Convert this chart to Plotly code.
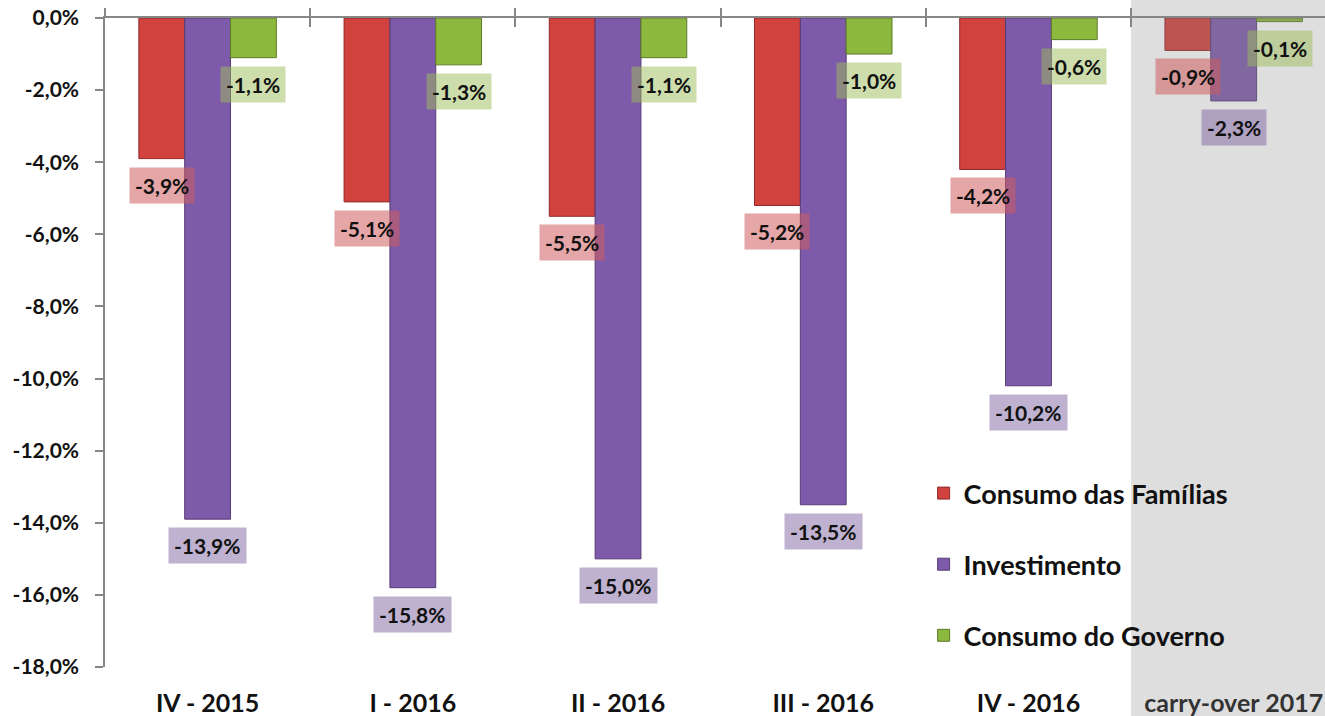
import plotly.graph_objects as go

categories = ["IV - 2015", "I - 2016", "II - 2016", "III - 2016", "IV - 2016", "carry-over 2017"]
consumo_familias = [-3.9, -5.1, -5.5, -5.2, -4.2, -0.9]
investimento = [-13.9, -15.8, -15.0, -13.5, -10.2, -2.3]
consumo_governo = [-1.1, -1.3, -1.1, -1.0, -0.6, -0.1]
series_names = ["Consumo das Famílias", "Investimento", "Consumo do Governo"]
y_ticks = [0, -2, -4, -6, -8, -10, -12, -14, -16, -18]


def fmt_pct(v):
    return ("%.1f" % v).replace(".", ",") + "%"


y_ticktext = [fmt_pct(v) for v in y_ticks]

bar_colors = ["#D1413E", "#7E5AAA", "#8DB83E"]
bar_lines = ["#8E2A28", "#553D75", "#5F7A2A"]
label_bg = ["rgba(205,92,92,0.55)", "rgba(128,100,162,0.5)", "rgba(155,187,89,0.5)"]

FONT = "Lato"
W, H = 1325, 716
ML, MR, MT, MB = 105, 0, 18, 49
bargap = 0.33
x_range = [-0.5, 5.445]
y_range = [-18, 0]

fig = go.Figure()
all_series = [consumo_familias, investimento, consumo_governo]
for i, (name, vals) in enumerate(zip(series_names, all_series)):
    fig.add_trace(go.Bar(
        x=categories, y=vals, name=name,
        marker=dict(color=bar_colors[i], line=dict(color=bar_lines[i], width=1)),
        legendgroup=name, hoverinfo="skip",
    ))

# dummy traces to draw the crossing ticks on the zero line
for ax in ["x2", "x3"]:
    fig.add_trace(go.Scatter(x=categories, y=[None] * len(categories), xaxis=ax,
                             showlegend=False, hoverinfo="skip", mode="markers"))

# data labels
n = len(series_names)
bw = (1 - bargap) / n
annotations = []
for i, vals in enumerate(all_series):
    off = (i - (n - 1) / 2) * bw
    for j, v in enumerate(vals):
        annotations.append(dict(
            x=j + off, y=v, xref="x", yref="y", text=fmt_pct(v), showarrow=False,
            yanchor="top", yshift=-8, bgcolor=label_bg[i], borderpad=5,
            font=dict(family=FONT, size=21, color="#111111", weight="bold"),
        ))

# grey carry-over shading
span = x_range[1] - x_range[0]
x0p = (len(categories) - 1.5 - x_range[0]) / span
plot_h = H - MT - MB
fig.add_shape(type="rect", xref="paper", yref="paper",
              x0=x0p, x1=1.05, y0=-MB / plot_h - 0.01, y1=1 + MT / plot_h + 0.01,
              fillcolor="rgba(136,136,136,0.28)", line=dict(width=0), layer="above")

fig.update_layout(
    width=W, height=H,
    margin=dict(l=ML, r=MR, t=MT, b=MB, autoexpand=False),
    paper_bgcolor="white", plot_bgcolor="white",
    barmode="group", bargap=bargap, bargroupgap=0,
    annotations=annotations,
    showlegend=True,
    legend=dict(x=0.671, y=0.305, xanchor="left", yanchor="top",
                font=dict(family=FONT, size=27, color="#111111", weight="bold"),
                bgcolor="rgba(0,0,0,0)", tracegroupgap=33, traceorder="grouped",
                itemwidth=30),
    xaxis=dict(range=x_range, showline=False, ticks="", showgrid=False, automargin=False,
               tickfont=dict(family=FONT, size=25, color="#111111", weight="bold"),
               ticklabelstandoff=19, zeroline=False),
    xaxis2=dict(overlaying="x", matches="x", side="top", anchor="y", showline=True,
                linecolor="#868686", linewidth=1.5, ticks="outside", ticklen=8,
                tickcolor="#868686", tickwidth=1.5, tickson="boundaries", automargin=False,
                showticklabels=False, showgrid=False, zeroline=False),
    xaxis3=dict(overlaying="x", matches="x", side="top", anchor="y", showline=False,
                ticks="inside", ticklen=9, tickcolor="#868686", tickwidth=1.5, automargin=False,
                tickson="boundaries", showticklabels=False, showgrid=False, zeroline=False),
    yaxis=dict(range=y_range, tickvals=y_ticks, ticktext=y_ticktext, automargin=False,
               showline=True, linecolor="#868686", linewidth=1.5, ticks="outside",
               ticklen=8, tickcolor="#868686", tickwidth=1.5, showgrid=False,
               zeroline=False, ticklabelstandoff=12,
               tickfont=dict(family=FONT, size=21, color="#111111", weight="bold")),
)

fig.write_html("out.html", config={"displayModeBar": False},
               post_script="document.body.style.margin='0';")
